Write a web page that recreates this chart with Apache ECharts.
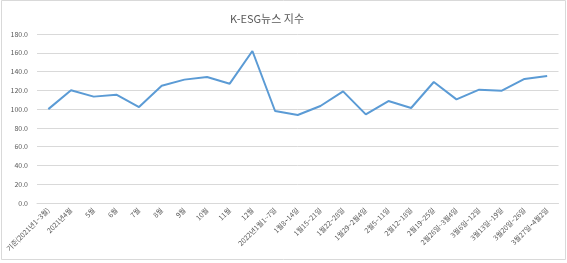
<!DOCTYPE html>
<html>
<head>
<meta charset="utf-8">
<script src="https://cdn.jsdelivr.net/npm/echarts@6/dist/echarts.min.js"></script>
<style>
html,body{margin:0;padding:0;background:#fff;}
#c{width:567px;height:263px;}
</style>
</head>
<body>
<div id="c"></div>
<script>
var titleText = 'K-ESG뉴스 지수';
var categories = ['기준(2021년1~3월)','2021년4월','5월','6월','7월','8월','9월','10월','11월','12월','2022년1월1~7일','1월8~14일','1월15~21일','1월22~28일','1월29~2월4일','2월5~11일','2월12~18일','2월19~25일','2월26일~3월4일','3월6일~12일','3월13일~19일','3월20일~26일','3월27일~4월2일'];
var values = [100.0,120.0,113.3,115.4,102.2,124.8,131.4,134.2,127.1,161.9,98.0,93.7,103.3,118.9,94.4,108.6,101.2,128.9,110.4,120.7,119.6,132.1,135.3];
var yTicks = {min:0, max:180, interval:20};

var font = '"Noto Sans CJK KR", "Noto Sans", sans-serif';
var chart = echarts.init(document.getElementById('c'), null, {renderer:'canvas'});
chart.setOption({
  animation:false,
  backgroundColor:'#fff',
  title:{
    text:titleText, left:262, top:8, textAlign:'center',
    textStyle:{fontFamily:font, fontSize:11, fontWeight:'normal', color:'#595959'}
  },
  graphic:[{type:'rect', shape:{x:1.5,y:0.5,width:564,height:259}, style:{fill:null, stroke:'#d9d9d9', lineWidth:1}, silent:true}],
  grid:{left:37, right:8.5, top:34, bottom:60, containLabel:false},
  xAxis:{
    type:'category', data:categories, boundaryGap:true,
    axisLine:{show:true, lineStyle:{color:'#d9d9d9', width:1}},
    axisTick:{show:false},
    axisLabel:{interval:0, rotate:45, margin:6, fontSize:7, fontFamily:font, color:'#595959'}
  },
  yAxis:{
    type:'value', min:yTicks.min, max:yTicks.max, interval:yTicks.interval,
    axisLine:{show:false}, axisTick:{show:false},
    splitLine:{lineStyle:{color:'#d9d9d9', width:1}},
    axisLabel:{margin:9, fontSize:7, fontFamily:font, color:'#595959', formatter:function(v){return v.toFixed(1);}}
  },
  series:[{
    type:'line', data:values, showSymbol:false, symbol:'none',
    lineStyle:{color:'#5b9bd5', width:2}, itemStyle:{color:'#5b9bd5'}
  }]
});
</script>
</body>
</html>
